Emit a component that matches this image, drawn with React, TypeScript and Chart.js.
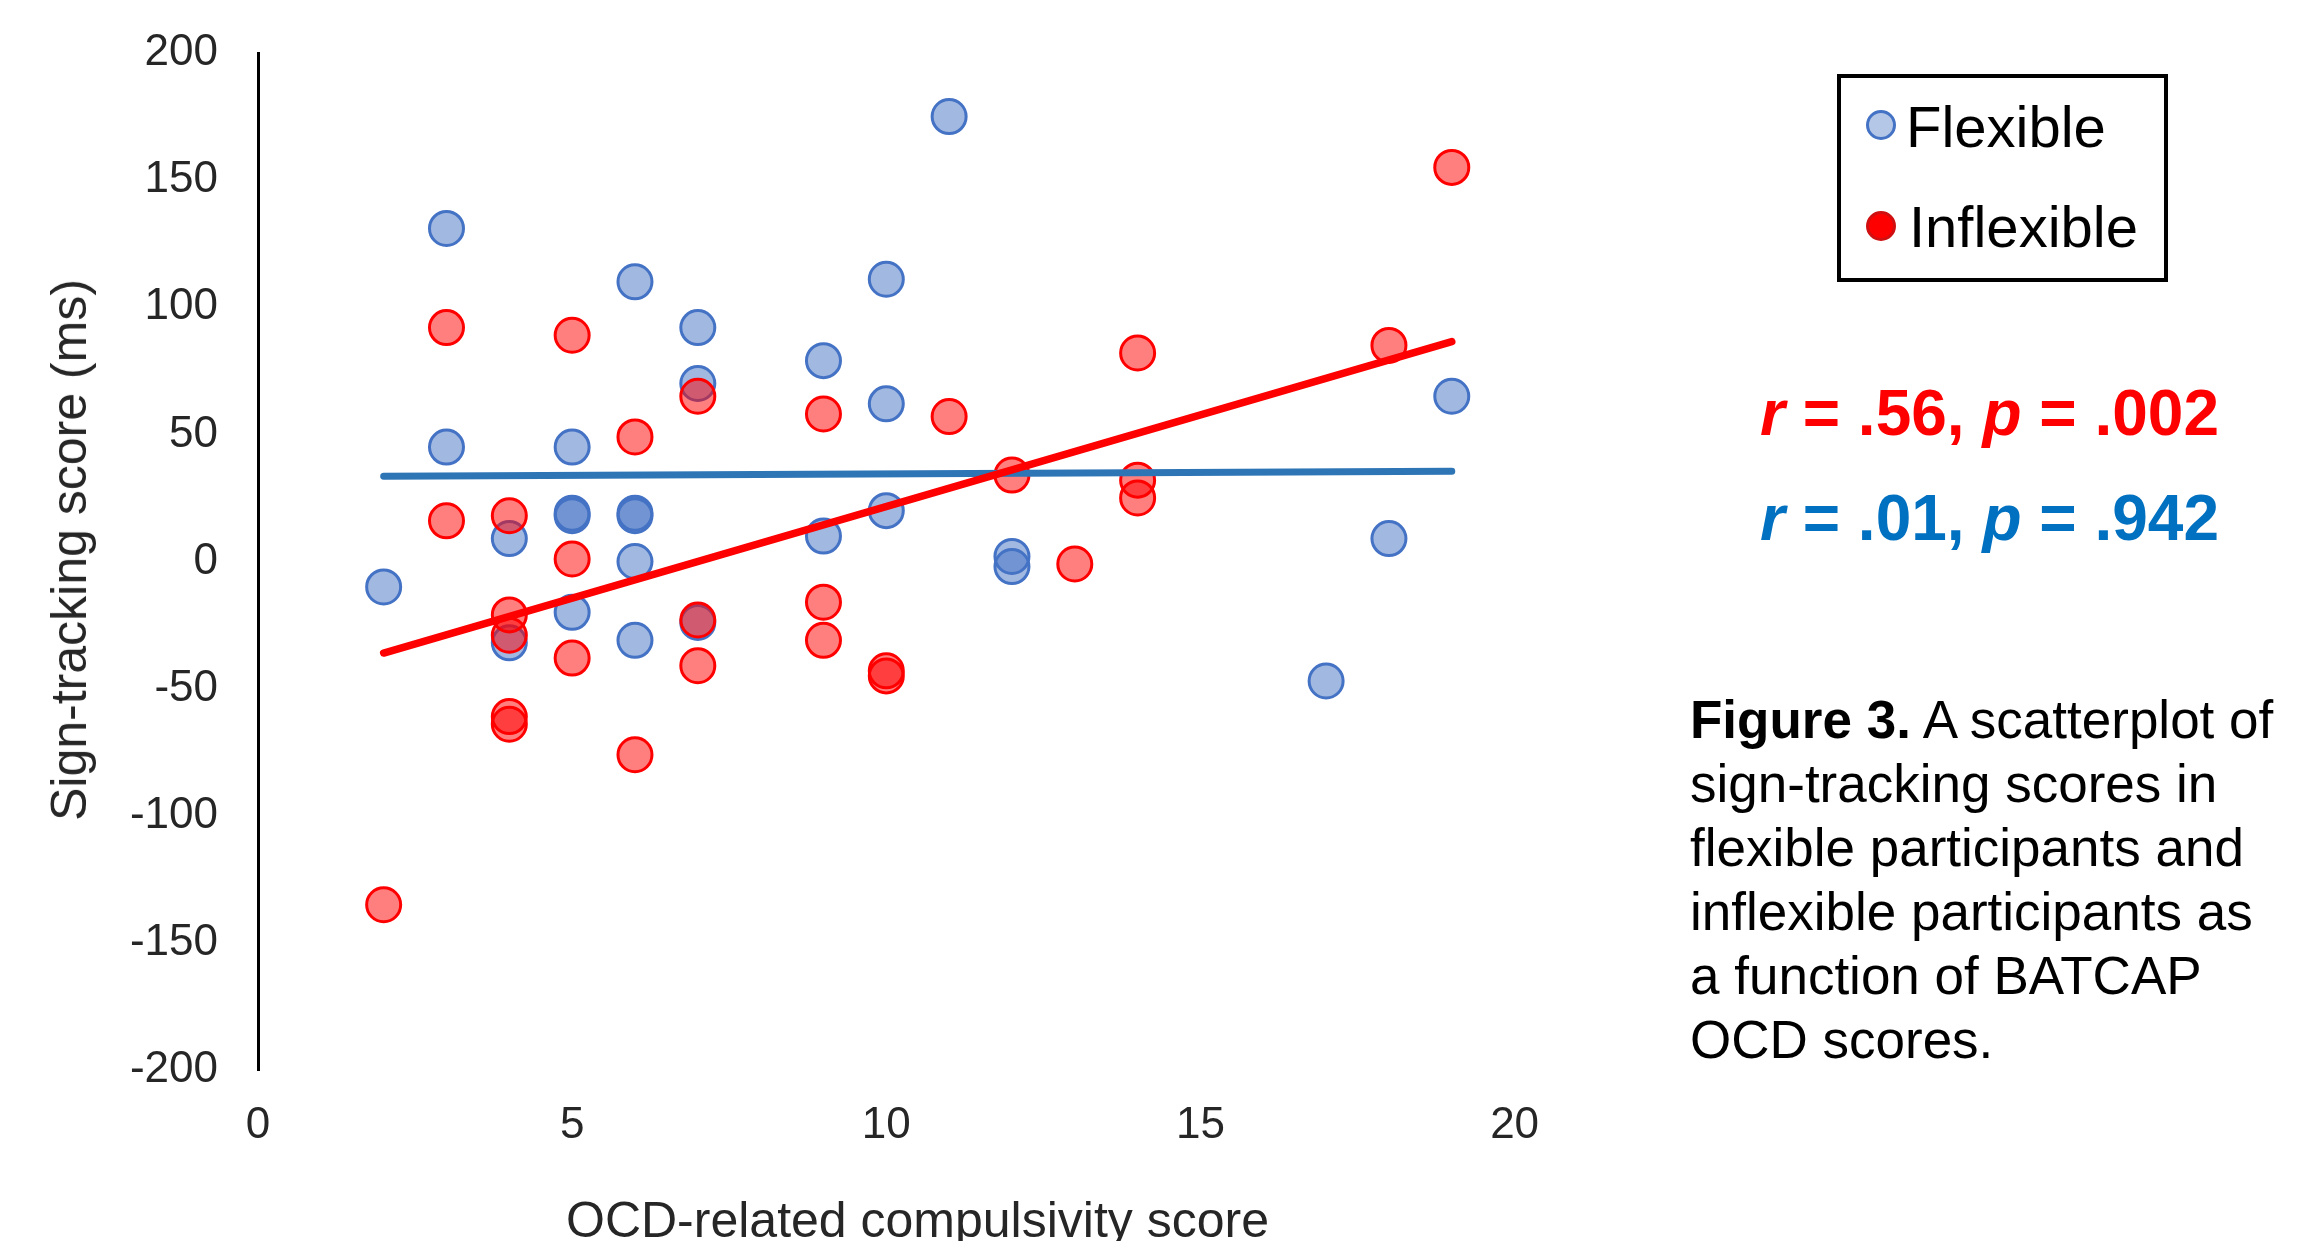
import React, { useEffect, useRef } from "react";
import { Chart, registerables } from "chart.js";

Chart.register(...registerables);

// ---- Data ----
const flexibleX = [2, 3, 3, 4, 4, 5, 5, 5, 5, 6, 6, 6, 6, 6, 7, 7, 7, 9, 9, 10, 10, 10, 11, 12, 12, 17, 18, 19];
const flexibleY = [-10, 131, 45, 9, -32, 45, 19, 18, -20, 110, 19, 18, 0, -31, 92, 70, -24, 79, 10, 111, 62, 20, 175, 2, -2, -47, 9, 65];

const inflexibleX = [2, 3, 3, 4, 4, 4, 4, 4, 5, 5, 5, 6, 6, 7, 7, 7, 9, 9, 9, 10, 10, 11, 12, 13, 14, 14, 14, 18, 19];
const inflexibleY = [-135, 92, 16, 18, -21, -29, -61, -64, 89, 1, -38, 49, -76, 65, -23, -41, 58, -16, -31, -43, -45, 57, 34, -1, 82, 32, 25, 85, 155];

const flexTrendX = [2, 19];
const flexTrendY = [33.5, 35.5];
const inflexTrendX = [2, 19];
const inflexTrendY = [-36, 86.5];

const xTickValues = [0, 5, 10, 15, 20];
const yTickValues = [-200, -150, -100, -50, 0, 50, 100, 150, 200];

const seriesNames = ["Flexible", "Inflexible"];
const xTitle = "OCD-related compulsivity score";
const yTitle = "Sign-tracking score (ms)";

const FONT = '"Liberation Sans", Arial, Helvetica, sans-serif';
const W = 2283;
const H = 1233;

const toPoints = (xs: number[], ys: number[]) => xs.map((x, i) => ({ x, y: ys[i] }));

export default function App() {
  const canvasRef = useRef<HTMLCanvasElement | null>(null);

  useEffect(() => {
    if (!canvasRef.current) return;
    const chart = new Chart(canvasRef.current, {
      type: "scatter",
      data: {
        datasets: [
          {
            type: "line",
            label: "Inflexible trend",
            data: toPoints(inflexTrendX, inflexTrendY),
            borderColor: "#FF0000",
            borderWidth: 7.5,
            borderCapStyle: "round",
            pointRadius: 0,
            fill: false,
            order: 1,
          } as any,
          {
            type: "line",
            label: "Flexible trend",
            data: toPoints(flexTrendX, flexTrendY),
            borderColor: "#2E75B6",
            borderWidth: 7,
            borderCapStyle: "round",
            pointRadius: 0,
            fill: false,
            order: 2,
          } as any,
          {
            label: seriesNames[1],
            data: toPoints(inflexibleX, inflexibleY),
            backgroundColor: "rgba(255,0,0,0.5)",
            borderColor: "#FF0000",
            borderWidth: 3,
            pointRadius: 17,
            pointHoverRadius: 17,
            order: 3,
          },
          {
            label: seriesNames[0],
            data: toPoints(flexibleX, flexibleY),
            backgroundColor: "rgba(68,114,196,0.5)",
            borderColor: "#4472C4",
            borderWidth: 3,
            pointRadius: 17,
            pointHoverRadius: 17,
            order: 4,
          },
        ],
      },
      options: {
        animation: false,
        responsive: false,
        devicePixelRatio: 1,
        events: [],
        layout: { padding: { top: 45, right: W - 1506.6, bottom: 0, left: 0 } },
        plugins: {
          legend: { display: false },
          tooltip: { enabled: false },
          title: { display: false },
        },
        scales: {
          x: {
            type: "linear",
            min: 0,
            max: 20,
            afterBuildTicks: (s: any) => {
              s.ticks = xTickValues.map((v) => ({ value: v }));
            },
            afterFit: (s: any) => {
              s.height = 171;
            },
            ticks: {
              font: { family: FONT, size: 44 },
              color: "#262626",
              padding: 0,
              maxRotation: 0,
            },
            grid: {
              display: true,
              drawOnChartArea: false,
              drawTicks: true,
              tickLength: 29,
              color: "rgba(0,0,0,0)",
            },
            border: { display: false },
          },
          y: {
            type: "linear",
            min: -200,
            max: 200,
            afterBuildTicks: (s: any) => {
              s.ticks = yTickValues.map((v) => ({ value: v }));
            },
            afterFit: (s: any) => {
              s.width = 250;
            },
            ticks: {
              font: { family: FONT, size: 44 },
              color: "#262626",
              padding: 0,
            },
            grid: {
              display: true,
              drawOnChartArea: false,
              drawTicks: true,
              tickLength: 40,
              color: "rgba(0,0,0,0)",
            },
            border: { display: true, color: "#000000", width: 3 },
          },
        },
      } as any,
    });
    return () => chart.destroy();
  }, []);

  const abs = (s: React.CSSProperties): React.CSSProperties => ({
    position: "absolute",
    whiteSpace: "nowrap",
    fontFamily: FONT,
    ...s,
  });

  return (
    <div style={{ position: "relative", width: W, height: H, background: "#fff", overflow: "hidden" }}>
      <canvas
        ref={canvasRef}
        width={W}
        height={H}
        style={{ position: "absolute", left: 0, top: 0, width: W, height: H }}
      />

      {/* Axis titles */}
      <div
        style={abs({
          left: 909.5,
          top: 1187,
          transform: "translateX(-50%)",
          fontSize: 50,
          lineHeight: "50px",
          color: "#262626",
        })}
      >
        {xTitle}
      </div>
      <div
        style={abs({
          left: 61,
          top: 542,
          transform: "translate(-50%, -50%) rotate(-90deg)",
          fontSize: 50,
          lineHeight: "50px",
          color: "#262626",
        })}
      >
        {yTitle}
      </div>

      {/* Legend */}
      <div
        style={{
          position: "absolute",
          left: 1829,
          top: 66,
          width: 331,
          height: 208,
          border: "4px solid #000",
          boxSizing: "border-box",
        }}
      />
      <div
        style={{
          position: "absolute",
          left: 1858,
          top: 102,
          width: 30,
          height: 30,
          borderRadius: "50%",
          background: "#B4C7E7",
          border: "3px solid #4472C4",
          boxSizing: "border-box",
        }}
      />
      <div style={abs({ left: 1898, top: 89.6, fontSize: 58, lineHeight: "58px", color: "#000" })}>
        {seriesNames[0]}
      </div>
      <div
        style={{
          position: "absolute",
          left: 1858,
          top: 203,
          width: 30,
          height: 30,
          borderRadius: "50%",
          background: "#FF0000",
          border: "3px solid #D01010",
          boxSizing: "border-box",
        }}
      />
      <div style={abs({ left: 1901, top: 190.2, fontSize: 58, lineHeight: "58px", color: "#000" })}>
        {seriesNames[1]}
      </div>

      {/* Correlation stats */}
      <div style={abs({ left: 1752, top: 373, fontSize: 64, lineHeight: "64px", fontWeight: 700, color: "#FF0000" })}>
        <i>r</i> = .56, <i>p</i> = .002
      </div>
      <div style={abs({ left: 1752, top: 478, fontSize: 64, lineHeight: "64px", fontWeight: 700, color: "#0070C0" })}>
        <i>r</i> = .01, <i>p</i> = .942
      </div>

      {/* Caption */}
      <div style={abs({ left: 1682, top: 680, fontSize: 53, lineHeight: "64px", color: "#000" })}>
        <b>Figure 3.</b> A scatterplot of
        <br />
        sign-tracking scores in
        <br />
        flexible participants and
        <br />
        inflexible participants as
        <br />
        a function of BATCAP
        <br />
        OCD scores.
      </div>
    </div>
  );
}
